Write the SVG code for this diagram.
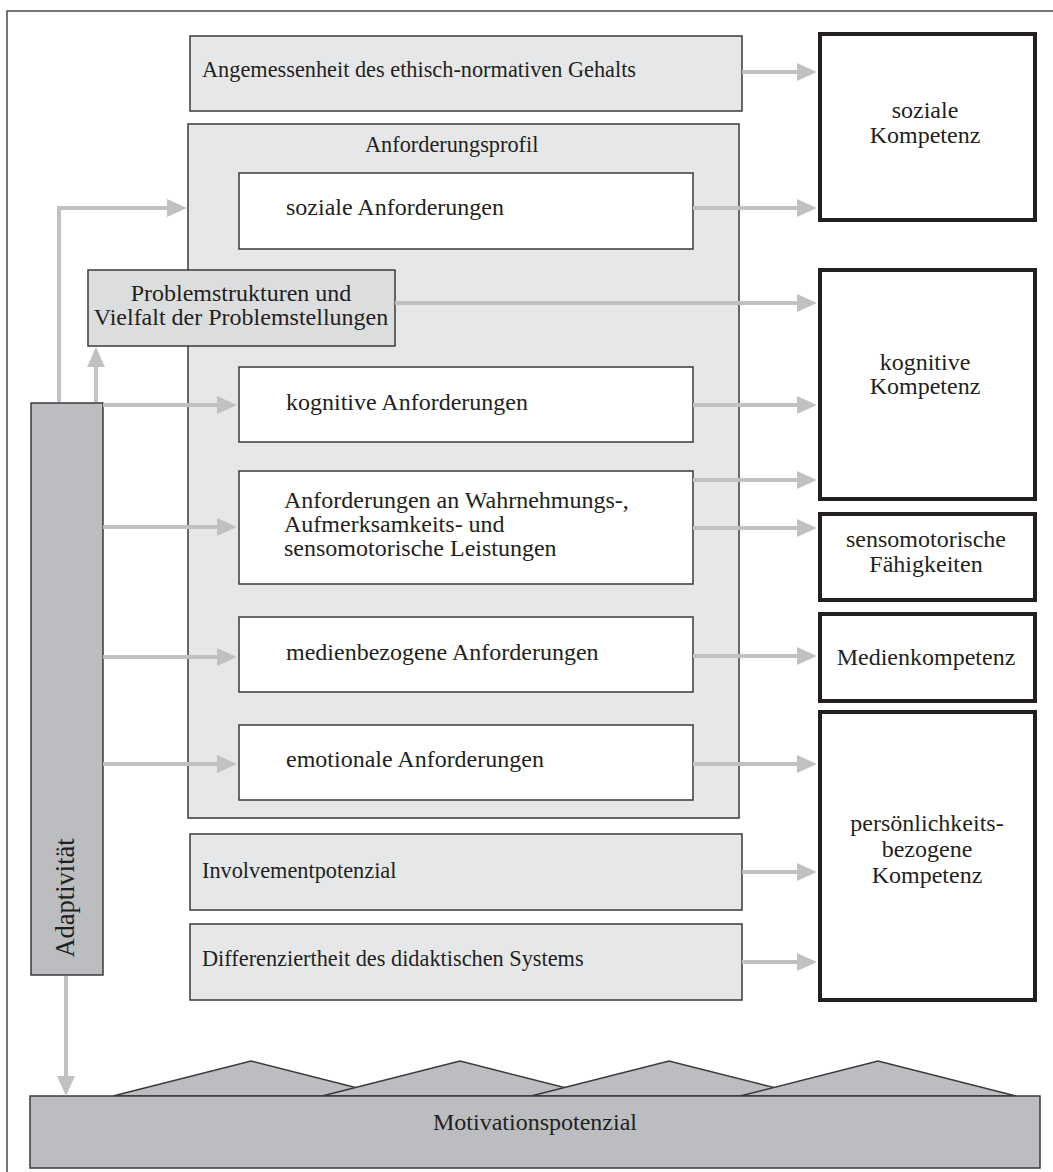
<svg xmlns="http://www.w3.org/2000/svg" width="1053" height="1172" viewBox="0 0 1053 1172">
<style>
  text { font-family: "Liberation Serif", "Times New Roman", serif; font-size: 24px; fill: #231f20; }
  text.s { font-size: 22.3px; }
  .c { text-anchor: middle; }
  .light { fill: #e6e7e8; stroke: #3a3a3a; stroke-width: 1.5; }
  .mid { fill: #dcdddf; stroke: #3a3a3a; stroke-width: 1.5; }
  .white { fill: #ffffff; stroke: #3a3a3a; stroke-width: 1.5; }
  .dark { fill: #bcbdc0; stroke: #3a3a3a; stroke-width: 1.5; }
  .out { fill: #ffffff; stroke: #231f20; stroke-width: 4; }
  .conn { fill: none; stroke: #c0c1c3; stroke-width: 4; marker-end: url(#ah); }
</style>
<defs>
  <marker id="ah" markerUnits="userSpaceOnUse" markerWidth="20" markerHeight="18" viewBox="0 0 20 18" refX="2" refY="9" orient="auto">
    <path d="M0,0 L20,9 L0,18 z" fill="#c0c1c3"/>
  </marker>
</defs>
<rect x="7" y="11" width="1060" height="1175" fill="#ffffff" stroke="#4a4a4a" stroke-width="1.5"/>

<g id="angemessenheit">
  <rect class="light" x="190" y="36" width="552" height="75"/>
  <text class="s" x="202" y="77">Angemessenheit des ethisch-normativen Gehalts</text>
</g>
<g id="anforderungsprofil">
  <rect class="light" x="188" y="124" width="551" height="694"/>
  <text class="s" x="365" y="152">Anforderungsprofil</text>
</g>
<g id="soziale-anforderungen">
  <rect class="white" x="239" y="173" width="454" height="76"/>
  <text x="286" y="215">soziale Anforderungen</text>
</g>
<g id="problemstrukturen">
  <rect class="mid" x="88" y="270" width="307" height="76"/>
  <text class="c" x="241" y="301">Problemstrukturen und</text>
  <text class="c" x="241" y="325">Vielfalt der Problemstellungen</text>
</g>
<g id="kognitive-anforderungen">
  <rect class="white" x="239" y="367" width="454" height="75"/>
  <text x="286" y="410">kognitive Anforderungen</text>
</g>
<g id="wahrnehmung-anforderungen">
  <rect class="white" x="239" y="471" width="454" height="113"/>
  <text x="284" y="508">Anforderungen an Wahrnehmungs-,</text>
  <text x="284" y="532">Aufmerksamkeits- und</text>
  <text x="284" y="556">sensomotorische Leistungen</text>
</g>
<g id="medien-anforderungen">
  <rect class="white" x="239" y="617" width="454" height="75"/>
  <text x="286" y="660">medienbezogene Anforderungen</text>
</g>
<g id="emotionale-anforderungen">
  <rect class="white" x="239" y="725" width="454" height="75"/>
  <text x="286" y="767">emotionale Anforderungen</text>
</g>
<g id="involvement">
  <rect class="light" x="190" y="834" width="552" height="76"/>
  <text class="s" x="202" y="878">Involvementpotenzial</text>
</g>
<g id="differenziertheit">
  <rect class="light" x="190" y="924" width="552" height="76"/>
  <text class="s" x="202" y="966">Differenziertheit des didaktischen Systems</text>
</g>
<g id="adaptivitaet">
  <rect class="dark" x="31" y="403" width="72" height="572"/>
  <text class="c" transform="translate(74,898) rotate(-90)" style="font-size:26.5px">Adaptivität</text>
</g>

<g id="soziale-kompetenz">
  <rect class="out" x="820" y="34" width="215" height="186"/>
  <text class="c" x="925" y="118">soziale</text>
  <text class="c" x="925" y="143">Kompetenz</text>
</g>
<g id="kognitive-kompetenz">
  <rect class="out" x="820" y="270" width="215" height="229"/>
  <text class="c" x="925" y="370">kognitive</text>
  <text class="c" x="925" y="394">Kompetenz</text>
</g>
<g id="sensomotorische-faehigkeiten">
  <rect class="out" x="820" y="514" width="215" height="86"/>
  <text class="c" x="926" y="547">sensomotorische</text>
  <text class="c" x="926" y="572">Fähigkeiten</text>
</g>
<g id="medienkompetenz">
  <rect class="out" x="820" y="614" width="215" height="87"/>
  <text class="c" x="926" y="665">Medienkompetenz</text>
</g>
<g id="persoenlichkeitskompetenz">
  <rect class="out" x="820" y="712" width="215" height="288"/>
  <text class="c" x="927" y="831">persönlichkeits-</text>
  <text class="c" x="927" y="857">bezogene</text>
  <text class="c" x="927" y="883">Kompetenz</text>
</g>

<g id="motivationspotenzial">
  <polygon class="dark" points="113,1096 251,1061 389,1096"/>
  <polygon class="dark" points="322,1096 460,1061 598,1096"/>
  <polygon class="dark" points="531,1096 669,1061 807,1096"/>
  <polygon class="dark" points="740,1096 878,1061 1016,1096"/>
  <rect class="dark" x="30" y="1096" width="1010" height="72"/>
  <text class="c" x="535" y="1130">Motivationspotenzial</text>
</g>

<g id="connectors">
  <path class="conn" d="M742,72 H799"/>
  <path class="conn" d="M693,208 H799"/>
  <path class="conn" d="M395,303 H799"/>
  <path class="conn" d="M693,405 H799"/>
  <path class="conn" d="M693,480 H799"/>
  <path class="conn" d="M693,528 H799"/>
  <path class="conn" d="M693,656 H799"/>
  <path class="conn" d="M693,764 H799"/>
  <path class="conn" d="M742,872 H799"/>
  <path class="conn" d="M742,962 H799"/>
  <path class="conn" d="M59,402 V208 H169"/>
  <path class="conn" d="M96,402 V365"/>
  <path class="conn" d="M103,405 H219"/>
  <path class="conn" d="M103,527 H219"/>
  <path class="conn" d="M103,657 H219"/>
  <path class="conn" d="M103,764 H219"/>
  <path class="conn" d="M66,976 V1078"/>
</g>
</svg>
